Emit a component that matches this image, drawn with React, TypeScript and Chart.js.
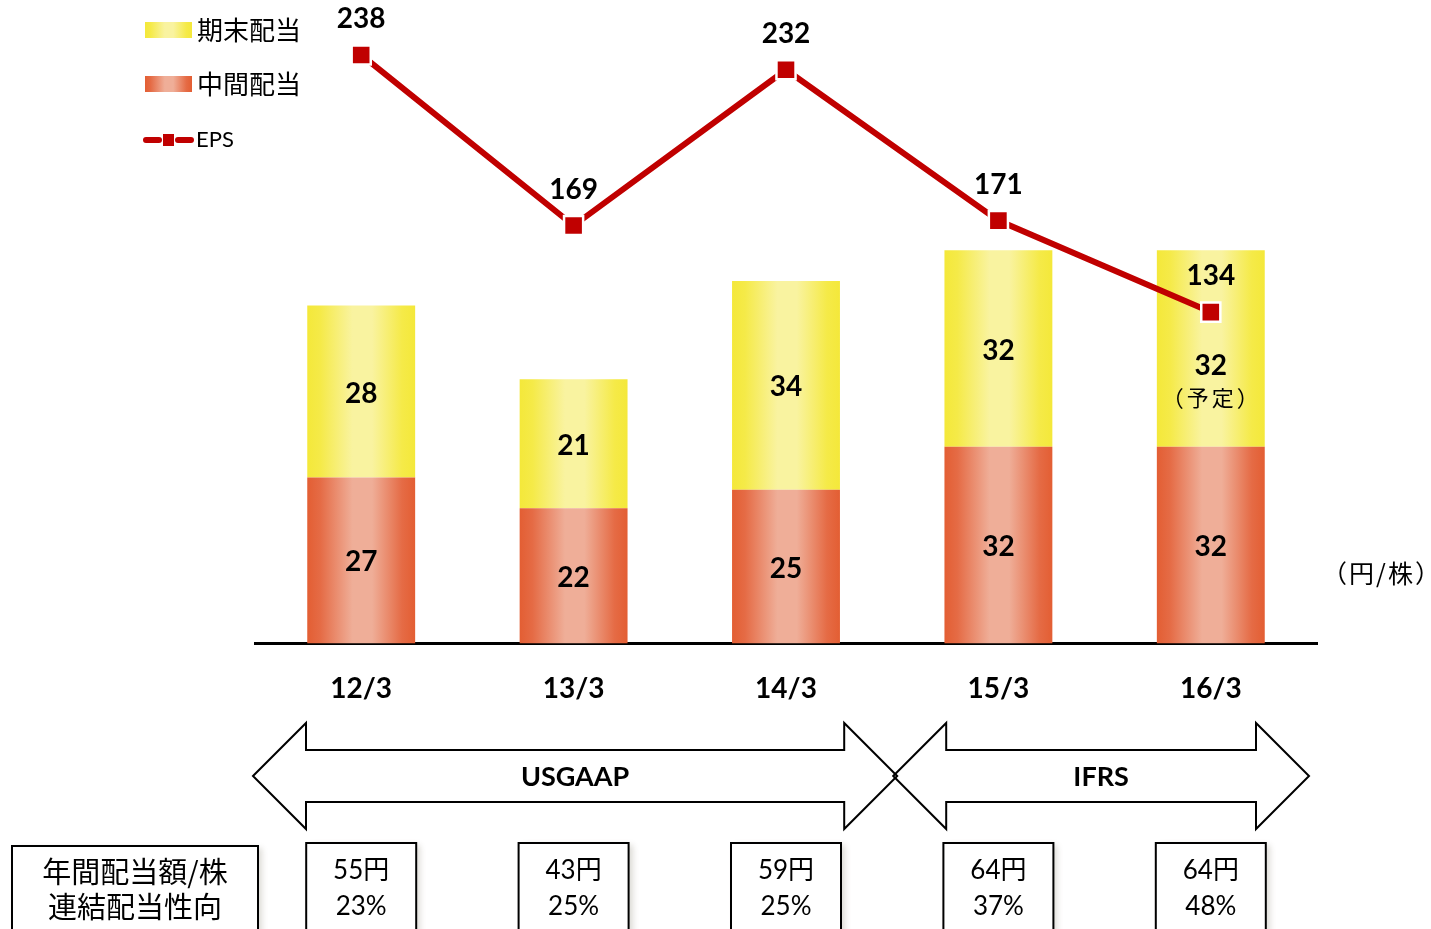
import React, { useEffect, useRef } from 'react';
import { Chart, registerables } from 'chart.js';

Chart.register(...registerables);

// ---- data ----
const categories = ['12/3', '13/3', '14/3', '15/3', '16/3'];
const interimDividend = [27, 22, 25, 32, 32];
const yearEndDividend = [28, 21, 34, 32, 32];
const yearEndNotes = ['', '', '', '', '（予定）'];
const eps = [238, 169, 232, 171, 134];
const payoutRatio = ['23%', '25%', '25%', '37%', '48%'];
const rowLabels = ['年間配当額/株', '連結配当性向'];
const standards = [
  { label: 'USGAAP', from: 0, to: 2 },
  { label: 'IFRS', from: 3, to: 4 },
];
const unitLabel = '（円/株）';

const FONT = "Lato, 'Noto Sans CJK JP', sans-serif";
const CJK = "'Noto Sans CJK JP', Lato, sans-serif";

const YELLOW_STOPS: [number, string][] = [
  [0, '#F4E83A'],
  [0.12, '#F5EA48'],
  [0.42, '#F9F3A0'],
  [0.6, '#F9F3A0'],
  [0.88, '#F5EA48'],
  [1, '#F4E83A'],
];
const ORANGE_STOPS: [number, string][] = [
  [0, '#E35E33'],
  [0.12, '#E56B45'],
  [0.42, '#EFAE98'],
  [0.6, '#EFAE98'],
  [0.88, '#E56B45'],
  [1, '#E35E33'],
];

const CAT_PCT = 0.508;

function makeGradient(ctx: CanvasRenderingContext2D, x0: number, x1: number, stops: [number, string][]) {
  const g = ctx.createLinearGradient(x0, 0, x1, 0);
  stops.forEach(([o, c]) => g.addColorStop(o, c));
  return g;
}

function barFill(stops: [number, string][]) {
  return (c: any) => {
    const chart = c.chart;
    const xs = chart.scales && chart.scales.x;
    if (!chart.chartArea || !xs) return stops[2][1];
    const cx = xs.getPixelForValue(c.dataIndex);
    const w = (xs.width / categories.length) * CAT_PCT;
    return makeGradient(chart.ctx, cx - w / 2, cx + w / 2, stops);
  };
}

const labelsPlugin = {
  id: 'valueLabels',
  afterDatasetsDraw(chart: any) {
    const ctx = chart.ctx as CanvasRenderingContext2D;
    ctx.save();
    ctx.fillStyle = '#000';
    ctx.textAlign = 'center';
    ctx.textBaseline = 'middle';
    chart.data.datasets.forEach((ds: any, di: number) => {
      const meta = chart.getDatasetMeta(di);
      meta.data.forEach((el: any, i: number) => {
        const v = ds.data[i];
        if (meta.type === 'line') {
          ctx.font = `bold 28px ${FONT}`;
          ctx.fillText(String(v), el.x, el.y - 36);
        } else {
          const cy = (el.y + el.base) / 2;
          const note = ds.notes ? ds.notes[i] : '';
          ctx.font = `bold 28px ${FONT}`;
          if (note) {
            ctx.fillText(String(v), el.x, cy + 17);
            ctx.font = `22px ${CJK}`;
            (ctx as any).letterSpacing = '3px';
            ctx.fillText(note, el.x + 1, cy + 49);
            (ctx as any).letterSpacing = '0px';
          } else {
            ctx.fillText(String(v), el.x, cy + 2);
          }
        }
      });
    });
    ctx.restore();
  },
};

const decorPlugin = {
  id: 'decor',
  afterDraw(chart: any) {
    const ctx = chart.ctx as CanvasRenderingContext2D;
    const xs = chart.scales.x;
    const catW = xs.width / categories.length;
    ctx.save();

    // ---- legend ----
    const dsYear = chart.data.datasets[2];
    const dsInt = chart.data.datasets[1];
    const dsEps = chart.data.datasets[0];
    ctx.textAlign = 'left';
    ctx.textBaseline = 'middle';
    ctx.fillStyle = makeGradient(ctx, 145, 192, YELLOW_STOPS);
    ctx.fillRect(145, 22, 47, 16);
    ctx.fillStyle = makeGradient(ctx, 145, 192, ORANGE_STOPS);
    ctx.fillRect(145, 76, 47, 16);
    ctx.fillStyle = '#000';
    ctx.font = `26px ${CJK}`;
    ctx.fillText(dsYear.label, 197, 30);
    ctx.fillText(dsInt.label, 197, 84);
    ctx.strokeStyle = '#C00000';
    ctx.lineWidth = 6;
    ctx.lineCap = 'round';
    ctx.beginPath();
    ctx.moveTo(146, 140);
    ctx.lineTo(159, 140);
    ctx.moveTo(178, 140);
    ctx.lineTo(191, 140);
    ctx.stroke();
    ctx.lineCap = 'butt';
    ctx.fillStyle = '#C00000';
    ctx.fillRect(163, 134, 11, 12);
    ctx.fillStyle = '#000';
    ctx.font = `22px ${FONT}`;
    ctx.fillText(dsEps.label, 196, 140);

    // ---- unit ----
    ctx.textAlign = 'center';
    ctx.font = `25px ${CJK}`;
    (ctx as any).letterSpacing = '2px';
    ctx.fillText(unitLabel, 1382, 573);
    (ctx as any).letterSpacing = '0px';

    // ---- arrows ----
    const cy = 776;
    const headLen = 53;
    const headHalf = 53;
    const shaftHalf = 26;
    ctx.strokeStyle = '#000';
    ctx.lineWidth = 2;
    ctx.lineJoin = 'miter';
    standards.forEach((s, k) => {
      const xl = xs.getPixelForValue(s.from) - catW / 2 + (k === 0 ? -2 : 1);
      const xr = xs.getPixelForValue(s.to) + catW / 2 + (k === 0 ? 5 : -8);
      ctx.beginPath();
      ctx.moveTo(xl, cy);
      ctx.lineTo(xl + headLen, cy - headHalf);
      ctx.lineTo(xl + headLen, cy - shaftHalf);
      ctx.lineTo(xr - headLen, cy - shaftHalf);
      ctx.lineTo(xr - headLen, cy - headHalf);
      ctx.lineTo(xr, cy);
      ctx.lineTo(xr - headLen, cy + headHalf);
      ctx.lineTo(xr - headLen, cy + shaftHalf);
      ctx.lineTo(xl + headLen, cy + shaftHalf);
      ctx.lineTo(xl + headLen, cy + headHalf);
      ctx.closePath();
      ctx.stroke();
      ctx.fillStyle = '#000';
      ctx.font = `bold 27px ${FONT}`;
      ctx.fillText(s.label, (xl + xr) / 2, cy + 1);
    });

    // ---- boxes ----
    const drawBox = (x: number, y: number, w: number, h: number) => {
      ctx.save();
      ctx.shadowColor = 'rgba(120,110,90,0.25)';
      ctx.shadowBlur = 6;
      ctx.shadowOffsetX = 4;
      ctx.shadowOffsetY = 2;
      ctx.fillStyle = '#fff';
      ctx.fillRect(x, y, w, h);
      ctx.restore();
      ctx.lineWidth = 2;
      ctx.strokeStyle = '#000';
      ctx.strokeRect(x, y, w, h);
    };
    drawBox(12, 846, 246, 100);
    ctx.fillStyle = '#000';
    ctx.font = `29px ${CJK}`;
    ctx.fillText(rowLabels[0], 135, 872);
    ctx.fillText(rowLabels[1], 135, 907);

    categories.forEach((_, i) => {
      const cx = xs.getPixelForValue(i);
      drawBox(cx - 55, 843, 110, 100);
      ctx.fillStyle = '#000';
      ctx.font = `26px ${FONT}`;
      const total = interimDividend[i] + yearEndDividend[i];
      ctx.fillText(`${total}円`, cx, 871);
      ctx.fillText(payoutRatio[i], cx, 907);
    });

    ctx.restore();
  },
};

export default function App() {
  const ref = useRef<HTMLCanvasElement | null>(null);
  useEffect(() => {
    if (!ref.current) return;
    const chart = new Chart(ref.current, {
      type: 'bar',
      data: {
        labels: categories,
        datasets: [
          {
            type: 'line',
            label: 'EPS',
            data: eps,
            yAxisID: 'y2',
            borderColor: '#C00000',
            backgroundColor: '#C00000',
            borderWidth: 6,
            pointStyle: 'rect',
            pointRadius: 13.5,
            pointBackgroundColor: '#C00000',
            pointBorderColor: '#ffffff',
            pointBorderWidth: 2.5,
            tension: 0,
            order: 0,
          } as any,
          {
            type: 'bar',
            label: '中間配当',
            data: interimDividend,
            yAxisID: 'y',
            stack: 's',
            backgroundColor: barFill(ORANGE_STOPS),
            borderWidth: 0,
            categoryPercentage: CAT_PCT,
            barPercentage: 1,
            order: 1,
          } as any,
          {
            type: 'bar',
            label: '期末配当',
            data: yearEndDividend,
            notes: yearEndNotes,
            yAxisID: 'y',
            stack: 's',
            backgroundColor: barFill(YELLOW_STOPS),
            borderWidth: 0,
            categoryPercentage: CAT_PCT,
            barPercentage: 1,
            order: 1,
          } as any,
        ],
      },
      options: {
        animation: false,
        responsive: true,
        maintainAspectRatio: false,
        devicePixelRatio: 1,
        layout: { padding: { left: 255, right: 114, top: 29, bottom: 194 } },
        plugins: {
          legend: { display: false },
          tooltip: { enabled: false },
        },
        scales: {
          x: {
            stacked: true,
            offset: true,
            grid: { display: false, drawTicks: false },
            border: { display: true, color: '#000', width: 3 },
            ticks: {
              color: '#000',
              padding: 29,
              font: { family: FONT, size: 28, weight: 'bold' },
              maxRotation: 0,
            },
          },
          y: { stacked: true, display: false, min: 0, max: 100 },
          y2: { display: false, min: 0, max: 248.5 },
        },
      } as any,
      plugins: [labelsPlugin, decorPlugin],
    });
    return () => chart.destroy();
  }, []);
  return (
    <div style={{ position: 'fixed', left: 0, top: 0, width: 1431, height: 929, background: '#fff' }}>
      <canvas ref={ref} />
    </div>
  );
}
